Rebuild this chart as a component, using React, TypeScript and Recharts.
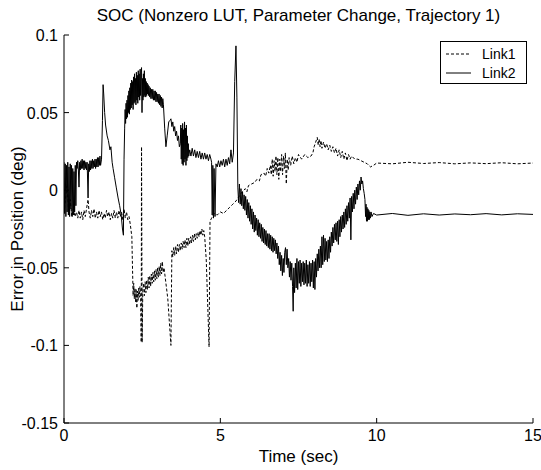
import React from 'react'
import { LineChart, Line, XAxis, YAxis } from 'recharts'

// axis ticks
const X_TICKS = [0, 5, 10, 15]
const Y_TICKS = [-0.15, -0.1, -0.05, 0, 0.05, 0.1]
const Y_TICK_LABELS = ['-0.15', '-0.1', '-0.05', '0', '0.05', '0.1']

// Link1 (dashed) - [time sec, error deg]
const LINK1_START = [
  [0, -0.015], [0.1, 0.004], [0.15, -0.016], [0.2, -0.006], [0.25, -0.017], [0.3, -0.012],
  [0.35, -0.017], [0.4, -0.014], [0.44, -0.018], [0.48, -0.013], [0.52, -0.018], [0.56, -0.014],
  [0.6, -0.019], [0.64, -0.013], [0.68, -0.017], [0.72, -0.012], [0.77, -0.006], [0.8, -0.014],
  [0.84, -0.018], [0.88, -0.013], [0.92, -0.017], [0.96, -0.012], [1.0, -0.018], [1.04, -0.014],
  [1.08, -0.018], [1.12, -0.013], [1.16, -0.017], [1.2, -0.014], [1.24, -0.019], [1.28, -0.015],
  [1.32, -0.018], [1.36, -0.013], [1.4, -0.017], [1.44, -0.014], [1.48, -0.019], [1.52, -0.015],
  [1.56, -0.018], [1.6, -0.013], [1.64, -0.018], [1.68, -0.014], [1.72, -0.018], [1.76, -0.013],
  [1.8, -0.017], [1.84, -0.014], [1.88, -0.019], [1.92, -0.012], [1.96, -0.018], [2.0, -0.014],
  [2.04, -0.019], [2.08, -0.017], [2.12, -0.022],
]
const LINK1_DROPS = [
  [2.17, -0.03], [2.21, -0.068], [2.23, -0.06], [2.25, -0.07], [2.27, -0.063], [2.29, -0.072],
  [2.31, -0.064], [2.33, -0.076], [2.35, -0.065], [2.37, -0.071], [2.39, -0.063], [2.41, -0.069],
  [2.43, -0.062], [2.45, -0.067], [2.47, -0.098], [2.48, 0.028], [2.5, -0.098], [2.52, -0.065],
  [2.545, -0.06], [2.57, -0.068], [2.595, -0.059], [2.62, -0.066], [2.645, -0.058], [2.67, -0.064],
  [2.695, -0.056], [2.72, -0.063], [2.745, -0.055], [2.77, -0.062], [2.795, -0.054], [2.82, -0.06],
  [2.845, -0.053], [2.87, -0.059], [2.895, -0.052], [2.92, -0.058], [2.945, -0.051], [2.97, -0.057],
  [2.995, -0.05], [3.02, -0.056], [3.045, -0.049], [3.07, -0.055], [3.095, -0.047], [3.12, -0.054],
  [3.145, -0.046], [3.17, -0.053], [3.2, -0.05], [3.26, -0.06], [3.32, -0.07], [3.42, -0.1],
  [3.45, -0.039], [3.48, -0.043], [3.51, -0.037], [3.54, -0.042], [3.57, -0.036], [3.6, -0.041],
  [3.63, -0.035], [3.66, -0.04], [3.69, -0.035], [3.72, -0.039], [3.75, -0.034], [3.78, -0.038],
  [3.81, -0.033], [3.84, -0.037], [3.87, -0.032], [3.9, -0.037], [3.93, -0.031], [3.96, -0.036],
  [3.99, -0.031], [4.02, -0.035], [4.05, -0.03], [4.08, -0.034], [4.11, -0.029], [4.14, -0.033],
  [4.17, -0.028], [4.2, -0.032], [4.23, -0.028], [4.26, -0.031], [4.29, -0.027], [4.32, -0.03],
  [4.35, -0.026], [4.38, -0.029], [4.41, -0.025], [4.44, -0.029], [4.47, -0.026], [4.5, -0.03],
  [4.55, -0.045], [4.64, -0.101], [4.67, -0.02], [4.72, -0.018], [4.8, -0.015],
]
const LINK1_RISE = [
  [4.9, -0.016], [5.0, -0.014], [5.1, -0.015], [5.2, -0.013], [5.3, -0.011], [5.4, -0.009],
  [5.5, -0.007], [5.6, -0.004], [5.7, -0.001], [5.8, 0.001], [5.85, -0.001], [5.9, 0.003],
  [6.0, 0.004], [6.1, 0.005], [6.17, 0.007], [6.25, 0.006], [6.3, 0.01], [6.4, 0.011],
  [6.45, 0.009], [6.5, 0.014], [6.55, 0.011], [6.6, 0.016], [6.63, 0.01], [6.66, 0.02],
  [6.69, 0.009], [6.72, 0.019], [6.75, 0.012], [6.78, 0.022], [6.81, 0.01], [6.84, 0.021],
  [6.87, 0.007], [6.9, 0.02], [6.93, 0.012], [6.96, 0.023], [6.99, 0.01], [7.02, 0.022],
  [7.05, 0.014], [7.08, 0.024], [7.11, 0.004], [7.14, 0.02], [7.17, 0.013], [7.2, 0.021],
  [7.25, 0.016], [7.3, 0.022], [7.35, 0.017], [7.4, 0.021], [7.45, 0.018], [7.5, 0.023],
  [7.6, 0.02], [7.7, 0.023], [7.8, 0.021], [7.9, 0.022], [7.96, 0.024], [8.0, 0.028],
  [8.05, 0.031], [8.1, 0.034], [8.13, 0.029], [8.16, 0.033], [8.19, 0.028], [8.22, 0.032],
  [8.25, 0.027], [8.3, 0.031], [8.35, 0.027], [8.4, 0.03], [8.45, 0.026], [8.5, 0.029],
  [8.55, 0.025], [8.6, 0.028], [8.65, 0.024], [8.7, 0.027], [8.75, 0.022], [8.8, 0.026],
  [8.85, 0.021], [8.9, 0.025], [8.95, 0.02], [9.0, 0.024], [9.05, 0.019], [9.1, 0.023],
  [9.15, 0.02], [9.2, 0.022], [9.3, 0.02], [9.4, 0.02], [9.5, 0.019], [9.6, 0.018],
  [9.7, 0.017], [9.8, 0.015], [9.9, 0.016],
]
const LINK1_TAIL = [
  [10, 0.0175], [10.5, 0.017], [11, 0.018], [11.5, 0.0172], [12, 0.0178], [12.5, 0.017],
  [13, 0.0176], [13.5, 0.0171], [14, 0.0177], [14.5, 0.017], [15, 0.0175],
]

// Link2 (solid)
const LINK2_START = [
  [0, 0.018], [0.02, -0.015], [0.04, 0.017], [0.06, -0.017], [0.08, 0.016], [0.1, -0.014],
  [0.12, 0.018], [0.14, -0.016], [0.16, 0.015], [0.18, -0.017], [0.2, 0.017], [0.22, -0.012],
  [0.24, 0.016], [0.26, -0.017], [0.28, 0.014], [0.3, -0.016], [0.32, 0.012], [0.34, -0.014],
  [0.36, 0.016], [0.38, -0.01], [0.4, 0.018], [0.42, 0.014], [0.44, 0.019], [0.46, 0.013],
  [0.48, 0.002], [0.5, 0.018], [0.52, 0.013], [0.54, 0.019], [0.56, 0.014], [0.58, 0.02],
  [0.6, 0.014], [0.62, 0.019], [0.64, 0.013], [0.66, 0.019], [0.68, 0.014], [0.7, 0.018],
  [0.72, 0.013], [0.74, 0.018], [0.77, -0.005], [0.79, 0.017], [0.81, 0.012], [0.83, 0.019],
  [0.85, 0.013], [0.87, 0.019], [0.89, 0.014], [0.91, 0.02], [0.93, 0.014], [0.95, 0.019],
  [0.97, 0.015], [0.99, 0.02], [1.01, 0.014], [1.03, 0.02], [1.05, 0.015], [1.07, 0.021],
  [1.09, 0.015], [1.11, 0.021], [1.13, 0.016], [1.15, 0.022], [1.17, 0.016], [1.2, 0.02],
]
const LINK2_HUMP = [
  [1.23, 0.045], [1.25, 0.068], [1.27, 0.062], [1.3, 0.05], [1.33, 0.042], [1.38, 0.035],
  [1.42, 0.032], [1.47, 0.026], [1.5, 0.028], [1.54, 0.018], [1.57, 0.014], [1.62, 0.008],
  [1.67, 0.002], [1.73, -0.005], [1.78, -0.01], [1.83, -0.016], [1.87, -0.025], [1.9, -0.029],
  [1.92, 0.02], [1.94, 0.04], [1.955, 0.052], [1.97, 0.043], [1.985, 0.056], [2.0, 0.046],
  [2.015, 0.058], [2.03, 0.047], [2.045, 0.061], [2.06, 0.05], [2.075, 0.064], [2.09, 0.049],
  [2.105, 0.066], [2.12, 0.052], [2.135, 0.069], [2.15, 0.053], [2.165, 0.071], [2.18, 0.055],
  [2.195, 0.07], [2.21, 0.052], [2.225, 0.073], [2.24, 0.056], [2.255, 0.075], [2.27, 0.057],
  [2.285, 0.072], [2.3, 0.055], [2.315, 0.076], [2.33, 0.058], [2.345, 0.074], [2.36, 0.056],
  [2.375, 0.077], [2.39, 0.06], [2.405, 0.075], [2.42, 0.058], [2.435, 0.078], [2.45, 0.061],
  [2.465, 0.076], [2.48, 0.079], [2.495, 0.05], [2.51, 0.072], [2.525, 0.058], [2.54, 0.075],
  [2.555, 0.06], [2.57, 0.077], [2.585, 0.061], [2.6, 0.072], [2.615, 0.06], [2.63, 0.07],
  [2.645, 0.061], [2.66, 0.069], [2.675, 0.062], [2.69, 0.068], [2.705, 0.061], [2.72, 0.067],
  [2.74, 0.06], [2.76, 0.066], [2.78, 0.059], [2.8, 0.065], [2.82, 0.059], [2.84, 0.065],
  [2.86, 0.058], [2.88, 0.064], [2.9, 0.058], [2.92, 0.064], [2.94, 0.057], [2.96, 0.063],
  [2.98, 0.057], [3.0, 0.062], [3.02, 0.056], [3.04, 0.062], [3.06, 0.055], [3.08, 0.061],
  [3.1, 0.054], [3.12, 0.06], [3.14, 0.053], [3.16, 0.059], [3.18, 0.055],
]
const LINK2_STEPS = [
  [3.22, 0.04], [3.26, 0.028], [3.3, 0.035], [3.35, 0.044], [3.39, 0.045], [3.42, 0.046],
  [3.45, 0.041], [3.48, 0.044], [3.51, 0.038], [3.54, 0.041], [3.57, 0.035], [3.6, 0.038],
  [3.63, 0.032], [3.66, 0.035], [3.69, 0.028], [3.72, 0.03], [3.735, 0.042], [3.75, 0.02],
  [3.765, 0.04], [3.78, 0.017], [3.795, 0.043], [3.81, 0.016], [3.825, 0.039], [3.84, 0.018],
  [3.855, 0.044], [3.87, 0.02], [3.885, 0.04], [3.9, 0.016], [3.915, 0.042], [3.93, 0.019],
  [3.945, 0.035], [3.96, 0.021], [3.975, 0.03], [3.99, 0.022], [4.02, 0.026], [4.06, 0.022],
  [4.1, 0.027], [4.14, 0.022], [4.18, 0.026], [4.22, 0.021], [4.26, 0.025], [4.3, 0.021],
  [4.34, 0.025], [4.38, 0.02], [4.42, 0.024], [4.46, 0.02], [4.5, 0.024], [4.54, 0.02],
  [4.58, 0.023], [4.62, 0.019], [4.66, 0.023], [4.7, 0.02], [4.72, 0.018], [4.74, -0.016],
  [4.76, 0.016], [4.78, -0.018], [4.8, 0.014], [4.83, -0.017], [4.86, 0.017], [4.9, 0.015],
  [4.94, 0.019], [4.98, 0.015], [5.02, 0.019], [5.06, 0.016], [5.1, 0.02], [5.14, 0.015],
  [5.18, 0.02], [5.22, 0.016], [5.26, 0.021], [5.3, 0.017], [5.34, 0.026], [5.38, 0.018],
  [5.42, 0.024], [5.46, 0.07], [5.5, 0.093], [5.53, 0.06], [5.56, 0.002],
]
const LINK2_VALLEY = [
  [5.585, -0.008], [5.61, 0.004], [5.635, -0.009], [5.66, 0.001], [5.685, -0.01], [5.71, -0.001],
  [5.735, -0.012], [5.76, -0.003], [5.785, -0.013], [5.81, -0.004], [5.835, -0.016], [5.86, -0.006],
  [5.885, -0.018], [5.91, -0.008], [5.935, -0.02], [5.96, -0.01], [5.985, -0.022], [6.01, -0.012],
  [6.035, -0.025], [6.06, -0.014], [6.085, -0.027], [6.11, -0.016], [6.135, -0.026], [6.16, -0.018],
  [6.185, -0.029], [6.21, -0.019], [6.235, -0.03], [6.26, -0.021], [6.285, -0.031], [6.31, -0.022],
  [6.335, -0.033], [6.36, -0.024], [6.385, -0.034], [6.41, -0.025], [6.435, -0.035], [6.46, -0.026],
  [6.485, -0.036], [6.51, -0.028], [6.535, -0.037], [6.56, -0.028], [6.585, -0.038], [6.61, -0.029],
  [6.635, -0.039], [6.66, -0.03], [6.685, -0.04], [6.71, -0.031], [6.735, -0.039], [6.76, -0.032],
  [6.785, -0.041], [6.81, -0.034], [6.835, -0.044], [6.86, -0.036], [6.885, -0.048], [6.91, -0.04],
  [6.935, -0.052], [6.96, -0.042], [6.985, -0.055], [7.01, -0.044], [7.035, -0.053], [7.06, -0.04],
  [7.085, -0.037], [7.11, -0.048], [7.135, -0.038], [7.16, -0.05], [7.185, -0.044], [7.21, -0.056],
  [7.235, -0.046], [7.26, -0.058], [7.285, -0.047], [7.31, -0.062], [7.33, -0.078], [7.35, -0.05],
  [7.375, -0.066], [7.4, -0.047], [7.425, -0.063], [7.45, -0.044], [7.475, -0.064], [7.5, -0.046],
  [7.525, -0.06], [7.55, -0.045], [7.575, -0.062], [7.6, -0.047], [7.625, -0.059], [7.65, -0.046],
  [7.675, -0.061], [7.7, -0.047], [7.725, -0.06], [7.75, -0.045], [7.775, -0.062], [7.8, -0.048],
  [7.825, -0.06], [7.85, -0.046], [7.875, -0.062], [7.9, -0.047], [7.925, -0.059], [7.95, -0.045],
  [7.975, -0.063], [8.0, -0.046], [8.025, -0.064], [8.05, -0.044], [8.075, -0.056], [8.1, -0.041],
  [8.125, -0.052], [8.15, -0.038], [8.175, -0.05], [8.2, -0.036], [8.225, -0.05], [8.25, -0.03],
  [8.275, -0.048], [8.3, -0.029], [8.325, -0.046], [8.35, -0.031], [8.375, -0.045], [8.4, -0.033],
  [8.425, -0.046], [8.45, -0.032], [8.475, -0.044], [8.5, -0.03], [8.525, -0.04], [8.55, -0.027],
  [8.575, -0.036], [8.6, -0.024], [8.625, -0.034], [8.65, -0.022], [8.675, -0.032], [8.7, -0.021],
  [8.725, -0.033], [8.75, -0.02], [8.775, -0.035], [8.8, -0.019], [8.825, -0.03], [8.85, -0.017],
  [8.875, -0.027], [8.9, -0.016], [8.925, -0.025], [8.95, -0.014], [8.975, -0.024], [9.0, -0.012],
  [9.025, -0.022], [9.05, -0.01], [9.075, -0.02], [9.1, -0.008], [9.125, -0.018], [9.15, -0.005],
  [9.175, -0.032], [9.2, -0.004], [9.225, -0.014], [9.25, -0.002], [9.275, -0.012], [9.3, 0.0],
  [9.325, -0.009], [9.35, 0.002], [9.375, -0.006], [9.4, 0.004], [9.425, -0.003], [9.45, 0.006],
  [9.475, 0.0], [9.5, 0.0085], [9.525, 0.004], [9.55, 0.006], [9.575, 0.001], [9.6, -0.002],
  [9.625, -0.006], [9.645, -0.017], [9.66, -0.009], [9.675, -0.02], [9.69, -0.011], [9.705, -0.02],
  [9.72, -0.012], [9.735, -0.019], [9.75, -0.013], [9.765, -0.019], [9.78, -0.014], [9.8, -0.018],
  [9.82, -0.014], [9.85, -0.017], [9.9, -0.015],
]
const LINK2_TAIL = [
  [10, -0.016], [10.5, -0.015], [11, -0.0162], [11.5, -0.0152], [12, -0.016], [12.5, -0.0153],
  [13, -0.0158], [13.5, -0.0151], [14, -0.0159], [14.5, -0.0152], [15, -0.0156],
]

const toRows = (pts: number[][]) => pts.map(([t, v]) => ({ t, v }))
const link1Data = toRows([...LINK1_START, ...LINK1_DROPS, ...LINK1_RISE, ...LINK1_TAIL])
const link2Data = toRows([...LINK2_START, ...LINK2_HUMP, ...LINK2_STEPS, ...LINK2_VALLEY, ...LINK2_TAIL])

const FONT = '"Liberation Sans", Arial, sans-serif'
const TICK = 5

const BottomTick = (props: any) => {
  const { x, y, payload } = props
  return (
    <g>
      <line x1={x} y1={y} x2={x} y2={y - TICK} stroke="#000" />
      <text x={x} y={y + 18} textAnchor="middle" fontSize={16} fontFamily={FONT} fill="#000">
        {payload.value}
      </text>
    </g>
  )
}

const TopTick = (props: any) => {
  const { x, y } = props
  return <line x1={x} y1={y} x2={x} y2={y + TICK} stroke="#000" />
}

const LeftTick = (props: any) => {
  const { x, y, index } = props
  return (
    <g>
      <line x1={x} y1={y} x2={x + TICK} y2={y} stroke="#000" />
      <text x={x - 6} y={y + 6} textAnchor="end" fontSize={16} fontFamily={FONT} fill="#000">
        {Y_TICK_LABELS[index]}
      </text>
    </g>
  )
}

const RightTick = (props: any) => {
  const { x, y } = props
  return <line x1={x} y1={y} x2={x - TICK} y2={y} stroke="#000" />
}

export default function App() {
  return (
    <div style={{ position: 'absolute', left: 0, top: 0, width: 541, height: 470, background: '#fff', fontFamily: FONT }}>
      <LineChart width={541} height={470} data={link2Data} margin={{ top: 35, right: 8, bottom: 0, left: 0 }}>
        <XAxis
          dataKey="t" type="number" domain={[0, 15]} ticks={X_TICKS} interval={0}
          height={47} tickSize={0} tickMargin={0} tickLine={false}
          axisLine={{ stroke: '#000' }} tick={<BottomTick />} allowDataOverflow
        />
        <XAxis
          xAxisId="top" orientation="top" type="number" domain={[0, 15]} ticks={X_TICKS} interval={0}
          height={0} tickSize={0} tickMargin={0} tickLine={false}
          axisLine={{ stroke: '#000' }} tick={<TopTick />}
        />
        <YAxis
          type="number" domain={[-0.15, 0.1]} ticks={Y_TICKS} interval={0}
          width={64} tickSize={0} tickMargin={0} tickLine={false}
          axisLine={{ stroke: '#000' }} tick={<LeftTick />} allowDataOverflow
        />
        <YAxis
          yAxisId="right" orientation="right" type="number" domain={[-0.15, 0.1]} ticks={Y_TICKS} interval={0}
          width={0} tickSize={0} tickMargin={0} tickLine={false}
          axisLine={{ stroke: '#000' }} tick={<RightTick />}
        />
        <Line
          data={link1Data} dataKey="v" type="linear" stroke="#000" strokeWidth={1}
          strokeDasharray="3 2" dot={false} isAnimationActive={false}
        />
        <Line
          data={link2Data} dataKey="v" type="linear" stroke="#000" strokeWidth={1}
          dot={false} isAnimationActive={false}
        />
      </LineChart>

      <div style={{ position: 'absolute', left: 64, width: 469, top: 6, textAlign: 'center', fontSize: 17, lineHeight: '20px', color: '#000' }}>
        SOC (Nonzero LUT, Parameter Change, Trajectory 1)
      </div>
      <div style={{ position: 'absolute', left: 64, width: 469, top: 447, textAlign: 'center', fontSize: 17, lineHeight: '20px', color: '#000' }}>
        Time (sec)
      </div>
      <div
        style={{
          position: 'absolute', left: 18, top: 229, width: 280, marginLeft: -140, marginTop: -10,
          textAlign: 'center', fontSize: 17, lineHeight: '20px', color: '#000', transform: 'rotate(-90deg)',
        }}
      >
        Error in Position (deg)
      </div>

      <div style={{ position: 'absolute', left: 440, top: 41, width: 85, height: 41, border: '1px solid #000', background: '#fff', color: '#000' }}>
        <svg width={85} height={41} style={{ position: 'absolute', left: 0, top: 0 }}>
          <line x1={5} y1={12} x2={30} y2={12} stroke="#000" strokeDasharray="3 2" />
          <line x1={5} y1={31} x2={30} y2={31} stroke="#000" />
          <text x={41} y={17} fontSize={14} fontFamily={FONT}>Link1</text>
          <text x={41} y={36} fontSize={14} fontFamily={FONT}>Link2</text>
        </svg>
      </div>
    </div>
  )
}
